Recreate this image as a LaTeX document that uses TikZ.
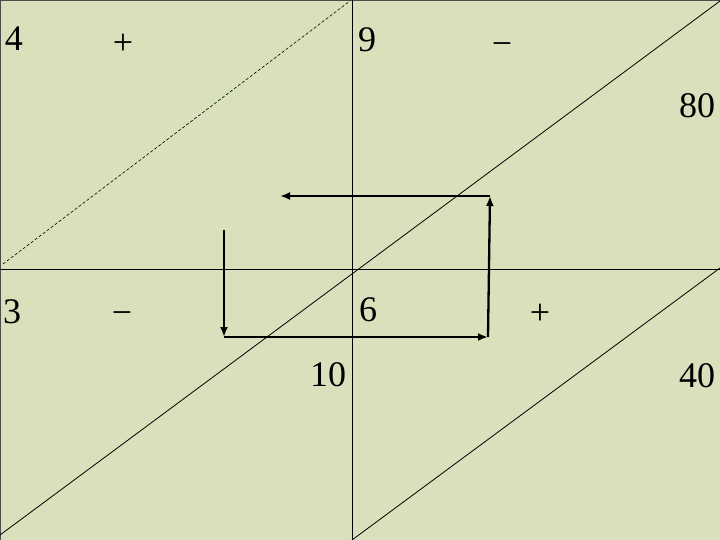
\documentclass[tikz,border=0pt]{standalone}
\usepackage{fontspec}
\setmainfont{Liberation Serif}
\usetikzlibrary{positioning}
\usetikzlibrary{arrows.meta}
\definecolor{slidegreen}{RGB}{216,225,188}

\begin{document}
\begin{tikzpicture}[x=1pt,y=-1pt,
  lbl/.style={inner sep=0pt,font=\fontsize{36}{40}\selectfont},
  axis/.style={line width=0.8pt},
  walk/.style={line width=2.3pt,-{Latex[length=10pt,width=8pt]}}]
\fill[slidegreen] (0,0) rectangle (720,540);
\useasboundingbox (0,0) rectangle (720,540);
\draw[line width=0.6pt,black!70] (0.5,540) -- (0.5,0.5) -- (720,0.5);

% axes and slanted lines
\coordinate (vtop) at (352,0);
\coordinate (vbot) at (352,540);
\coordinate (hl) at (0,269);
\coordinate (hr) at (720,269);
\coordinate (dlo) at (0,535);
\coordinate (dhi) at (720,1);
\coordinate (elo) at (352,540);
\coordinate (ehi) at (720,268);
\coordinate (flo) at (3,264);
\coordinate (fhi) at (350,1);
\draw[axis] (vtop) -- (vbot);
\draw[axis] (hl) -- (hr);
\draw[axis] (dlo) -- (dhi);
\draw[axis] (elo) -- (ehi);
\draw[line width=0.6pt,dash pattern=on 3pt off 2pt] (flo) -- (fhi);

% labels
\node[lbl] (n4) at (14,39) {4};
\node[lbl] (p1) at (123,44) {+};
\node[lbl] (n9) at (367,40) {9};
\node[lbl] (m1) at (502,49) {−};
\node[lbl] (n80) at (697,106) {80};
\node[lbl] (n3) at (12,312) {3};
\node[lbl] (m2) at (122,318) {−};
\node[lbl] (n6) at (368,310) {6};
\node[lbl] (p2) at (540,314) {+};
\node[lbl] (n10) at (328,375) {10};
\node[lbl] (n40) at (697,376) {40};

% the loop of arrows
\coordinate (rb) at (488,337);
\coordinate (rt) at (490,196);
\coordinate (ul) at (280,196);
\coordinate (lt) at (224,230);
\coordinate (lb) at (224,337);
\draw[walk] (rb) -- (rt);
\draw[walk] (rt) -- (ul);
\draw[walk] (lt) -- (lb);
\draw[walk] (lb) -- (rb);
\end{tikzpicture}
\end{document}
